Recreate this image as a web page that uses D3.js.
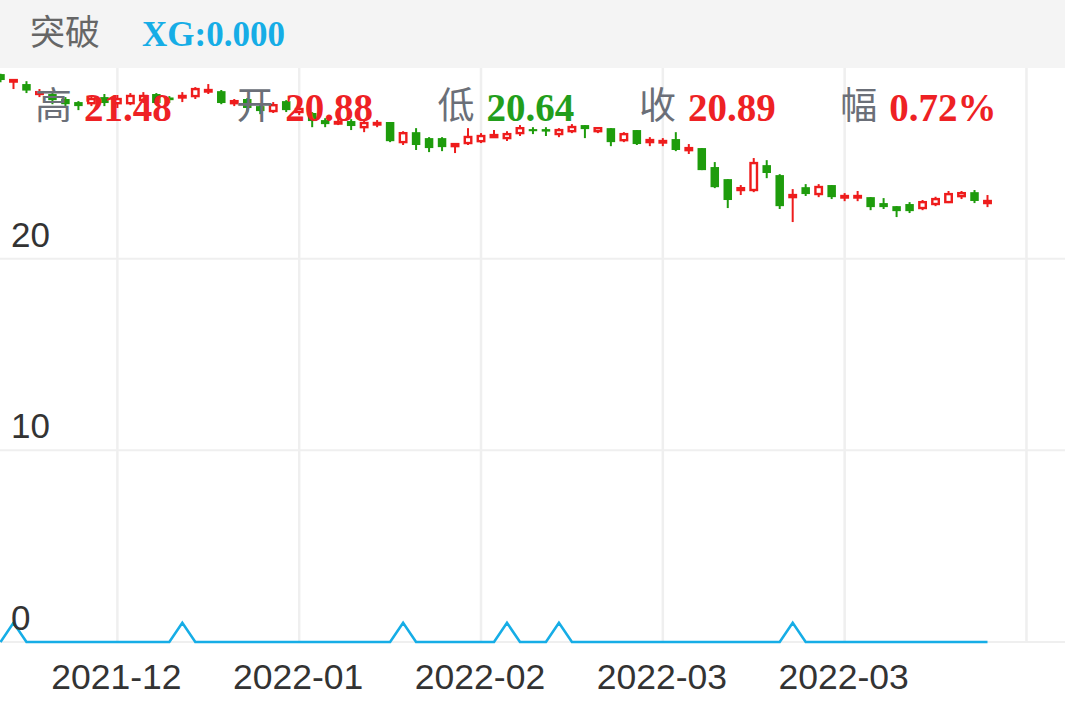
<!DOCTYPE html>
<html><head><meta charset="utf-8">
<script src="https://cdn.jsdelivr.net/npm/d3@7/dist/d3.min.js"></script>
<style>html,body{margin:0;padding:0;background:#fff;overflow:hidden}</style>
</head><body><svg id="c" width="1065" height="708"></svg>
<script>
const openV  = [29.63,29.21,29.11,28.54,28.59,28.33,28.17,28.06,28.43,28.06,28.06,28.22,28.59,28.41,28.38,28.43,28.69,28.74,28.06,28.33,27.96,27.65,28.22,27.60,27.60,27.23,27.02,27.18,26.81,26.97,27.13,26.03,26.60,26.29,26.29,25.82,25.98,26.08,26.29,26.24,26.50,26.76,26.76,26.45,26.60,26.97,26.60,26.81,26.13,26.71,26.03,26.03,26.24,25.61,25.77,24.78,24.15,23.53,23.53,24.88,24.36,23.16,23.73,23.32,23.84,23.16,23.16,23.21,22.90,22.74,22.85,22.59,22.80,22.90,23.21,23.47,22.85];
const closeV = [29.32,29.37,28.77,28.74,28.27,28.06,27.96,28.38,28.12,28.38,28.54,28.54,28.12,28.27,28.54,28.90,28.85,28.12,28.27,27.86,27.70,28.06,27.75,27.86,27.18,27.02,27.18,26.92,27.13,27.13,26.13,26.60,25.93,25.77,25.82,26.03,26.40,26.45,26.50,26.55,26.86,26.65,26.63,26.76,26.92,26.76,26.86,26.08,26.55,25.98,26.24,26.19,25.67,25.82,24.62,23.73,23.06,23.73,25.04,24.47,22.74,23.37,23.37,23.79,23.21,23.32,23.32,22.69,22.69,22.48,22.48,23.00,23.16,23.42,23.47,23.01,23.06];
const highV  = [29.65,29.37,29.26,28.85,28.69,28.43,28.22,28.48,28.59,28.54,28.64,28.69,28.64,28.48,28.69,28.95,29.11,28.80,28.33,28.38,28.06,28.17,28.27,27.96,27.65,27.33,27.28,27.28,27.23,27.23,27.13,26.65,26.81,26.34,26.34,26.03,26.81,26.55,26.71,26.65,26.97,26.86,26.86,26.81,27.02,26.97,26.86,26.81,26.60,26.71,26.34,26.29,26.60,25.98,25.77,25.04,24.15,23.84,25.25,25.14,24.41,23.63,23.89,23.89,23.84,23.42,23.53,23.21,23.16,22.74,22.95,23.06,23.23,23.53,23.53,23.58,23.32];
const lowV   = [29.21,28.85,28.64,28.43,28.06,27.91,27.75,27.96,27.96,27.86,28.01,28.12,28.06,28.12,28.17,28.33,28.59,28.06,27.96,27.65,27.54,27.60,27.65,27.49,26.86,26.86,26.97,26.71,26.60,26.86,26.08,25.93,25.67,25.56,25.61,25.51,25.93,26.03,26.29,26.14,26.40,26.50,26.40,26.34,26.55,26.29,26.55,25.87,26.08,25.93,25.87,25.87,25.61,25.46,24.62,23.68,22.64,23.32,23.47,24.20,22.59,21.91,23.27,23.21,23.11,23.00,23.00,22.53,22.59,22.17,22.38,22.53,22.74,22.90,23.11,22.90,22.69];
const xgV = openV.map(()=>0);
const xgHits = [1,14,31,39,43,61];
xgHits.forEach(i=>xgV[i]=1);
const yTicks = [0,10,20];
const xTickIdx = [9,23,37,51,65,79];
const xTickLabels = ['2021-12','2022-01','2022-02','2022-03','2022-03',''];
const info = [
  {k:'高', v:'21.48', c:'#ee2124'},
  {k:'开', v:'20.88', c:'#ee2124'},
  {k:'低', v:'20.64', c:'#229e1c'},
  {k:'收', v:'20.89', c:'#ee2124'},
  {k:'幅', v:'0.72%', c:'#ee2124'}
];

const W=1065,H=708;
const svg=d3.select('#c');
const x=d3.scaleLinear().domain([0,76]).range([0.5,987.5]);
const y=d3.scaleLinear().domain([0,30]).range([642,67]);
const UP='#ee1c1c', DOWN='#1e9c0c', GRID='#efefef';

const g=svg.append('g');
g.selectAll('.hg').data(yTicks).join('line')
  .attr('x1',0).attr('x2',W).attr('y1',d=>y(d)).attr('y2',d=>y(d))
  .attr('stroke',GRID).attr('stroke-width',2);
g.selectAll('.vg').data(xTickIdx).join('line')
  .attr('x1',d=>x(d)).attr('x2',d=>x(d)).attr('y1',68).attr('y2',y(0))
  .attr('stroke',GRID).attr('stroke-width',2.5);

const data=openV.map((o,i)=>({i,o,c:closeV[i],h:highV[i],l:lowV[i]}));
const bw=8.5;
const cg=g.append('g');
cg.selectAll('.wick').data(data).join('line')
  .attr('x1',d=>x(d.i)).attr('x2',d=>x(d.i))
  .attr('y1',d=>y(d.h)).attr('y2',d=>y(d.l))
  .attr('stroke',d=>d.c>=d.o?UP:DOWN).attr('stroke-width',2);
cg.selectAll('.body').data(data).join('rect')
  .attr('x',d=>x(d.i)-bw/2+(d.c>=d.o?1:0))
  .attr('width',d=>d.c>=d.o?bw-2:bw)
  .attr('y',d=>y(Math.max(d.o,d.c))+(d.c>=d.o?1:0))
  .attr('height',d=>Math.max(1.5,Math.abs(y(d.o)-y(d.c))-(d.c>=d.o?2:0)))
  .attr('fill',d=>d.c>=d.o?'#fff':DOWN)
  .attr('stroke',d=>d.c>=d.o?UP:'none')
  .attr('stroke-width',2.4);

g.append('path').datum(xgV)
  .attr('d',d3.line().x((d,i)=>x(i)).y(d=>y(d)))
  .attr('fill','none').attr('stroke','#16ade6').attr('stroke-width',2.6);

g.selectAll('.yl').data(yTicks).join('text')
  .attr('x',11).attr('y',d=>y(d)-12)
  .attr('font-family','Liberation Sans, Arial, sans-serif').attr('font-size',35)
  .attr('fill','#333').text(d=>d);
g.selectAll('.xl').data(xTickIdx).join('text')
  .attr('x',d=>x(d)-1).attr('y',689).attr('text-anchor','middle')
  .attr('font-family','Liberation Sans, Arial, sans-serif').attr('font-size',35.5)
  .attr('fill','#333').text((d,i)=>xTickLabels[i]);

svg.append('rect').attr('x',0).attr('y',0).attr('width',W).attr('height',68).attr('fill','#f4f4f4');
svg.append('text').attr('x',30).attr('y',45)
  .attr('font-family','Noto Sans CJK SC, sans-serif').attr('font-size',35).attr('fill','#666').text('突破');
svg.append('text').attr('x',142).attr('y',46)
  .attr('font-family','Liberation Serif, Times New Roman, serif').attr('font-weight','bold')
  .attr('font-size',35).attr('fill','#16ade6').text('XG:0.000');

const ig=svg.append('g');
info.forEach((d,k)=>{
  const x0=35+k*201.3;
  ig.append('text').attr('x',x0).attr('y',119)
    .attr('font-family','Noto Sans CJK SC, sans-serif').attr('font-size',37).attr('fill','#6b6f78').text(d.k);
  ig.append('text').attr('x',x0+49).attr('y',121)
    .attr('font-family','Liberation Serif, Times New Roman, serif').attr('font-weight','bold')
    .attr('font-size',39).attr('fill',d.c).text(d.v);
});
</script></body></html>
